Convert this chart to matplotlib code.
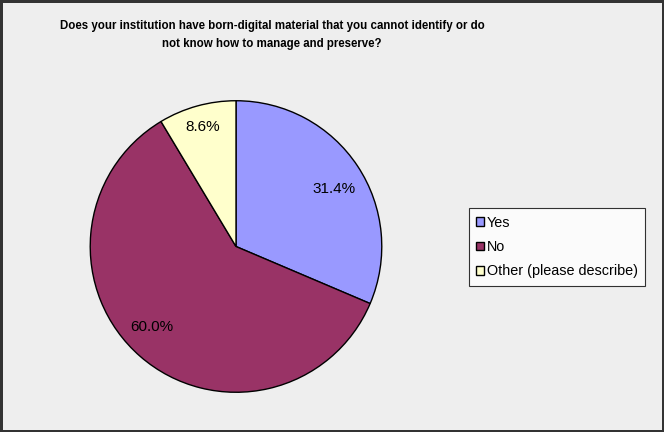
import matplotlib.pyplot as plt
import numpy as np

plt.rcParams['font.family'] = ['Liberation Sans', 'DejaVu Sans']

# --- data ---
title = ("Does your institution have born-digital material that you cannot identify or do\n"
         "not know how to manage and preserve?")
categories = ['Yes', 'No', 'Other (please describe)']
shares = [31.4, 60.0, 8.6]
colors = ['#9999FF', '#993366', '#FFFFCC']

# label placement inside wedges (radius fraction, angle nudge in degrees)
label_dist = [0.78, 0.80, 0.85]
label_nudge = [-3, -5, 0]

fig = plt.figure(figsize=(6.64, 4.32), dpi=100)
fig.patch.set_facecolor('#EEEEEE')
fig.patch.set_edgecolor('#333333')
fig.patch.set_linewidth(2.5)

# pie area: x 89..383 px, y 100..393 px from top
ax = fig.add_axes([89 / 664, 39 / 432, 294 / 664, 293 / 432])
wedges, texts, autotexts = ax.pie(shares, colors=colors, startangle=90, counterclock=False,
                                  autopct='%1.1f%%', pctdistance=0.8,
                                  wedgeprops=dict(edgecolor='black', linewidth=1.0),
                                  textprops=dict(fontsize=11, color='black'))
for w, t, d, n in zip(wedges, autotexts, label_dist, label_nudge):
    ang = np.deg2rad((w.theta1 + w.theta2) / 2 + n)
    t.set_position((d * np.cos(ang), d * np.sin(ang)))
ax.set_xlim(-1.005, 1.005)
ax.set_ylim(-1.005, 1.005)
ax.set_aspect('equal')

fig.text(272 / 664, 1 - 35 / 432, title, ha='center', va='center', fontsize=8.3,
         fontweight='bold', linespacing=1.6)

leg = fig.legend(wedges, categories, loc='center left',
                 bbox_to_anchor=(469 / 664, 1 - 247 / 432), borderaxespad=0,
                 fontsize=10.4, frameon=True, fancybox=False, edgecolor='black',
                 handlelength=0.55, handleheight=0.55, handletextpad=0.2,
                 labelspacing=0.72, borderpad=0.5)
leg.get_frame().set_linewidth(0.8)

fig.savefig('out.png', dpi=100, facecolor=fig.get_facecolor(), edgecolor=fig.get_edgecolor())
